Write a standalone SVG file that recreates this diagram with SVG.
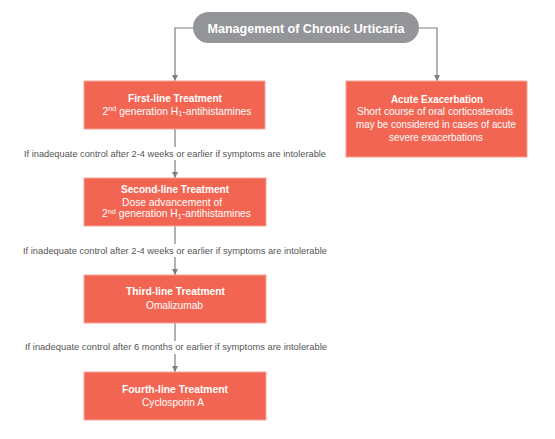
<svg xmlns="http://www.w3.org/2000/svg" width="555" height="439" viewBox="0 0 555 439">
<style>
.box{fill:#f26552;stroke:#f7a697;stroke-width:1}
.t{font-family:"Liberation Sans",Arial,sans-serif;fill:#ffffff;text-anchor:middle;font-size:10.5px}
.b{font-weight:bold}
.lbl{font-family:"Liberation Sans",Arial,sans-serif;fill:#555555;font-size:9px;text-anchor:middle}
.ln{stroke:#7f7f7f;stroke-width:1.2;fill:none}
</style>
<defs>
<marker id="ah" viewBox="0 0 10 10" refX="10" refY="5" markerWidth="6" markerHeight="6" markerUnits="userSpaceOnUse" orient="auto">
<path d="M0,0 L10,5 L0,10 z" fill="#7f7f7f"/>
</marker>
</defs>
<rect width="555" height="439" fill="#ffffff"/>
<g id="connectors">
<path class="ln" d="M193,28 H175 V81" marker-end="url(#ah)"/>
<path class="ln" d="M419,28 H437 V81" marker-end="url(#ah)"/>
<path class="ln" d="M175,129 V147"/>
<path class="ln" d="M175,160 V178" marker-end="url(#ah)"/>
<path class="ln" d="M175,226 V244"/>
<path class="ln" d="M175,257 V275" marker-end="url(#ah)"/>
<path class="ln" d="M175,323 V341"/>
<path class="ln" d="M175,354 V372" marker-end="url(#ah)"/>
<text class="lbl" x="175" y="157" textLength="302" lengthAdjust="spacingAndGlyphs">If inadequate control after 2-4 weeks or earlier if symptoms are intolerable</text>
<text class="lbl" x="175" y="254" textLength="304" lengthAdjust="spacingAndGlyphs">If inadequate control after  2-4 weeks or earlier if symptoms are intolerable</text>
<text class="lbl" x="176" y="350" textLength="302" lengthAdjust="spacingAndGlyphs">If inadequate control after 6 months or earlier if symptoms are intolerable</text>
</g>
<g id="title">
<rect x="193" y="12" width="226" height="31" rx="15.5" fill="#939598"/>
<text class="t b" x="306" y="32.5" style="font-size:13px" textLength="197" lengthAdjust="spacingAndGlyphs">Management of Chronic Urticaria</text>
</g>
<g id="first-line">
<rect class="box" x="84" y="81" width="181" height="48"/>
<text class="t b" x="175" y="102" textLength="94" lengthAdjust="spacingAndGlyphs">First-line Treatment</text>
<text class="t" x="177" y="114.5" textLength="149" lengthAdjust="spacingAndGlyphs">2<tspan dy="-3.5" font-size="7.5">nd</tspan><tspan dy="3.5"> generation H</tspan><tspan dy="1.5" font-size="7.5">1</tspan><tspan dy="-1.5">-antihistamines</tspan></text>
</g>
<g id="acute">
<rect class="box" x="346" y="81" width="181" height="76"/>
<text class="t b" x="437" y="102.5" textLength="92" lengthAdjust="spacingAndGlyphs">Acute Exacerbation</text>
<text class="t" x="435" y="114.5" textLength="156" lengthAdjust="spacingAndGlyphs">Short course of oral corticosteroids</text>
<text class="t" x="436" y="128" textLength="160" lengthAdjust="spacingAndGlyphs">may be considered in cases of acute</text>
<text class="t" x="436" y="141" textLength="94" lengthAdjust="spacingAndGlyphs">severe exacerbations</text>
</g>
<g id="second-line">
<rect class="box" x="84" y="178" width="182" height="48"/>
<text class="t b" x="175" y="193" textLength="108" lengthAdjust="spacingAndGlyphs">Second-line Treatment</text>
<text class="t" x="172" y="205.5" textLength="100" lengthAdjust="spacingAndGlyphs">Dose advancement of</text>
<text class="t" x="176.5" y="217" textLength="149" lengthAdjust="spacingAndGlyphs">2<tspan dy="-3.5" font-size="7.5">nd</tspan><tspan dy="3.5"> generation H</tspan><tspan dy="1.5" font-size="7.5">1</tspan><tspan dy="-1.5">-antihistamines</tspan></text>
</g>
<g id="third-line">
<rect class="box" x="84" y="275" width="182" height="48"/>
<text class="t b" x="175.5" y="295" textLength="99" lengthAdjust="spacingAndGlyphs">Third-line Treatment</text>
<text class="t" x="174.5" y="309" textLength="57" lengthAdjust="spacingAndGlyphs">Omalizumab</text>
</g>
<g id="fourth-line">
<rect class="box" x="84" y="372" width="182" height="48"/>
<text class="t b" x="175" y="393" textLength="106" lengthAdjust="spacingAndGlyphs">Fourth-line Treatment</text>
<text class="t" x="173" y="405.5" textLength="62" lengthAdjust="spacingAndGlyphs">Cyclosporin A</text>
</g>
</svg>
